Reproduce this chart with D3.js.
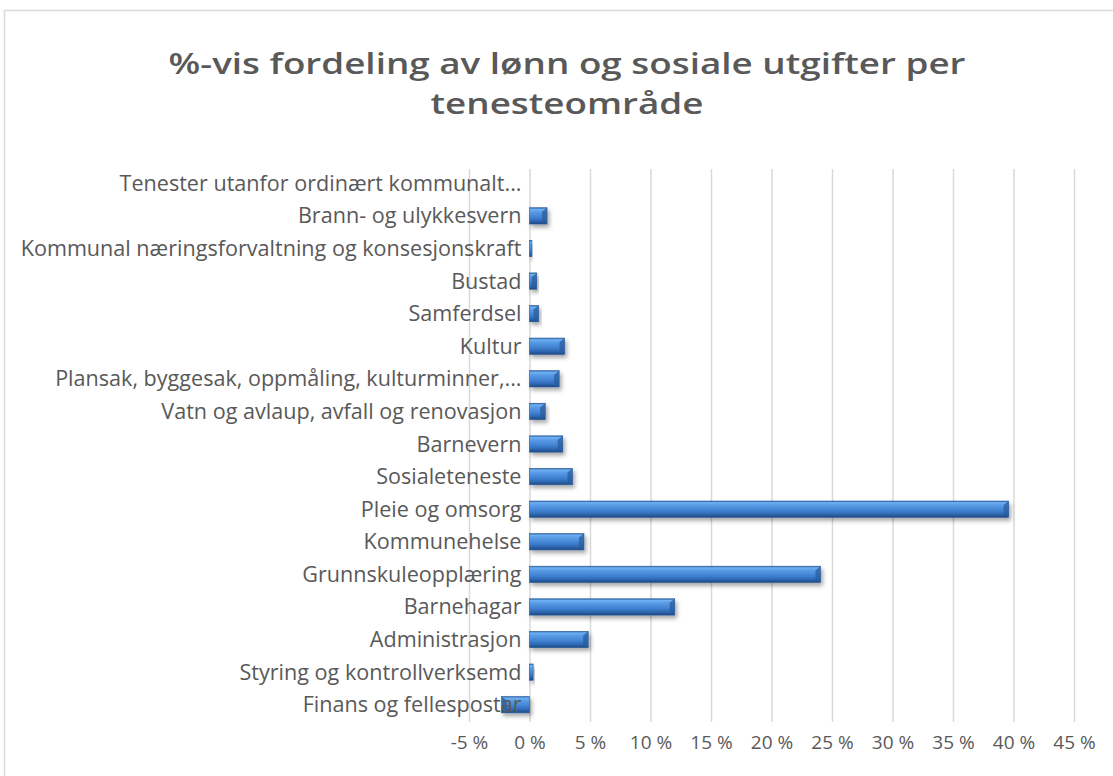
<!DOCTYPE html>
<html>
<head>
<meta charset="utf-8">
<script src="https://cdn.jsdelivr.net/npm/d3@7"></script>
<style>
  body { margin: 0; background: #fff; }
  svg { display: block; }
</style>
</head>
<body>
<div id="chart"></div>
<script>
// chart data
var categories = [
  "Tenester utanfor ordinært kommunalt...",
  "Brann- og ulykkesvern",
  "Kommunal næringsforvaltning og konsesjonskraft",
  "Bustad",
  "Samferdsel",
  "Kultur",
  "Plansak, byggesak, oppmåling, kulturminner,...",
  "Vatn og avlaup, avfall og renovasjon",
  "Barnevern",
  "Sosialeteneste",
  "Pleie og omsorg",
  "Kommunehelse",
  "Grunnskuleopplæring",
  "Barnehagar",
  "Administrasjon",
  "Styring og kontrollverksemd",
  "Finans og fellespostar"
];
var shares = [0.0, 1.45, 0.2, 0.6, 0.75, 2.9, 2.45, 1.3, 2.75, 3.55, 39.6, 4.5, 24.05, 12.0, 4.85, 0.3, -2.3];
var tickValues = [-5, 0, 5, 10, 15, 20, 25, 30, 35, 40, 45];
var titleLines = ["%-vis fordeling av lønn og sosiale utgifter per", "tenesteområde"];

var svgWidth = 1113;
var svgHeight = 776;
var textColor = "#595959";
var fontFam = "'Open Sans', 'Noto Sans', sans-serif";

var svg = d3.select("#chart")
  .append("svg")
    .attr("width", svgWidth)
    .attr("height", svgHeight);

// bar look: bevelled blue
var defs = svg.append("defs");
var grad = defs.append("linearGradient")
  .attr("id", "barGrad")
  .attr("x1", 0).attr("y1", 0).attr("x2", 0).attr("y2", 1);
[["0%", "#2d65ad"], ["10%", "#6fb0f2"], ["25%", "#5a9ce6"], ["60%", "#3f80d0"], ["82%", "#2d66b0"], ["100%", "#1d4780"]]
  .forEach(function(s) { grad.append("stop").attr("offset", s[0]).attr("stop-color", s[1]); });

var shadow = defs.append("filter").attr("id", "shadow")
  .attr("x", "-20%").attr("y", "-50%").attr("width", "150%").attr("height", "250%");
shadow.append("feDropShadow")
  .attr("dx", 2).attr("dy", 3).attr("stdDeviation", 2)
  .attr("flood-color", "#000").attr("flood-opacity", 0.35);

// outer chart border
svg.append("rect")
  .attr("x", 4.5).attr("y", 10.5)
  .attr("width", 1140).attr("height", 800)
  .attr("fill", "none")
  .attr("stroke", "#d9d9d9")
  .attr("stroke-width", 1.5);

// title, stretched to the width it takes in the picture
var title = svg.append("g")
  .selectAll("text")
  .data(titleLines)
  .enter()
  .append("text")
    .attr("x", 567)
    .attr("y", (d, i) => 74 + i * 40)
    .attr("text-anchor", "middle")
    .attr("font-family", fontFam)
    .attr("font-weight", 600)
    .attr("font-size", 29)
    .attr("fill", textColor)
    .text(d => d);
var natural = title.nodes().map(n => n.getComputedTextLength());
var stretch = 797 / natural[0];
title
  .attr("textLength", (d, i) => natural[i] * stretch)
  .attr("lengthAdjust", "spacingAndGlyphs");

// scales
var x = d3.scaleLinear()
  .domain([-5, 45])
  .range([469, 1074]);

var y = d3.scaleBand()
  .domain(categories)
  .range([167, 721])
  .paddingInner(0.5)
  .paddingOuter(0.25);

// gridlines
svg.append("g")
  .selectAll("line")
  .data(tickValues)
  .enter()
  .append("line")
    .attr("x1", d => x(d) + 0.5)
    .attr("x2", d => x(d) + 0.5)
    .attr("y1", 169)
    .attr("y2", 722)
    .attr("stroke", "#d9d9d9")
    .attr("stroke-width", 1.5);

// bars
var bars = svg.append("g")
  .selectAll("g")
  .data(shares)
  .enter()
  .append("g")
    .attr("filter", "url(#shadow)");

bars.append("rect")
    .attr("x", d => x(Math.min(0, d)))
    .attr("y", (d, i) => y(categories[i]))
    .attr("width", d => Math.abs(x(d) - x(0)))
    .attr("height", y.bandwidth())
    .attr("fill", "url(#barGrad)")
    .attr("stroke", "#2a5a98")
    .attr("stroke-width", 0.6);

// darker bevel at the outer end of each bar
bars.append("path")
  .attr("d", function(d, i) {
    var w = Math.abs(x(d) - x(0));
    if (w < 6) return null;
    var xe = x(d), s = d < 0 ? 1 : -1;
    var y0 = y(categories[i]), h = y.bandwidth();
    return "M" + xe + "," + y0 + "L" + (xe + s * 5) + "," + (y0 + 4) +
      "L" + (xe + s * 5) + "," + (y0 + h - 3) + "L" + xe + "," + (y0 + h) + "Z";
  })
  .attr("fill", "#2a5c9c")
  .attr("opacity", 0.75);

// category labels (sit next to the zero axis)
var labels = svg.append("g")
  .selectAll("text")
  .data(categories)
  .enter()
  .append("text")
    .attr("x", x(0) - 8)
    .attr("y", d => y(d) + y.bandwidth() / 2)
    .attr("dy", "0.35em")
    .attr("text-anchor", "end")
    .attr("font-family", fontFam)
    .attr("font-size", 17)
    .attr("fill", textColor)
    .text(d => d);

var longest = labels.filter((d, i) => i === 2).node();
var fitLabel = 17 * 501 / longest.getComputedTextLength();
labels.attr("font-size", fitLabel);

// value axis labels
var xAxis = d3.axisBottom(x)
  .tickValues(tickValues)
  .tickSize(0)
  .tickFormat(d => d + " %");

var axisG = svg.append("g")
  .attr("transform", "translate(0, 732)")
  .call(xAxis);
axisG.select(".domain").remove();
axisG.attr("font-size", null).attr("font-family", null);
axisG.selectAll("text")
  .style("font-family", fontFam)
  .style("font-size", "19px")
  .attr("fill", textColor);
</script>
</body>
</html>
